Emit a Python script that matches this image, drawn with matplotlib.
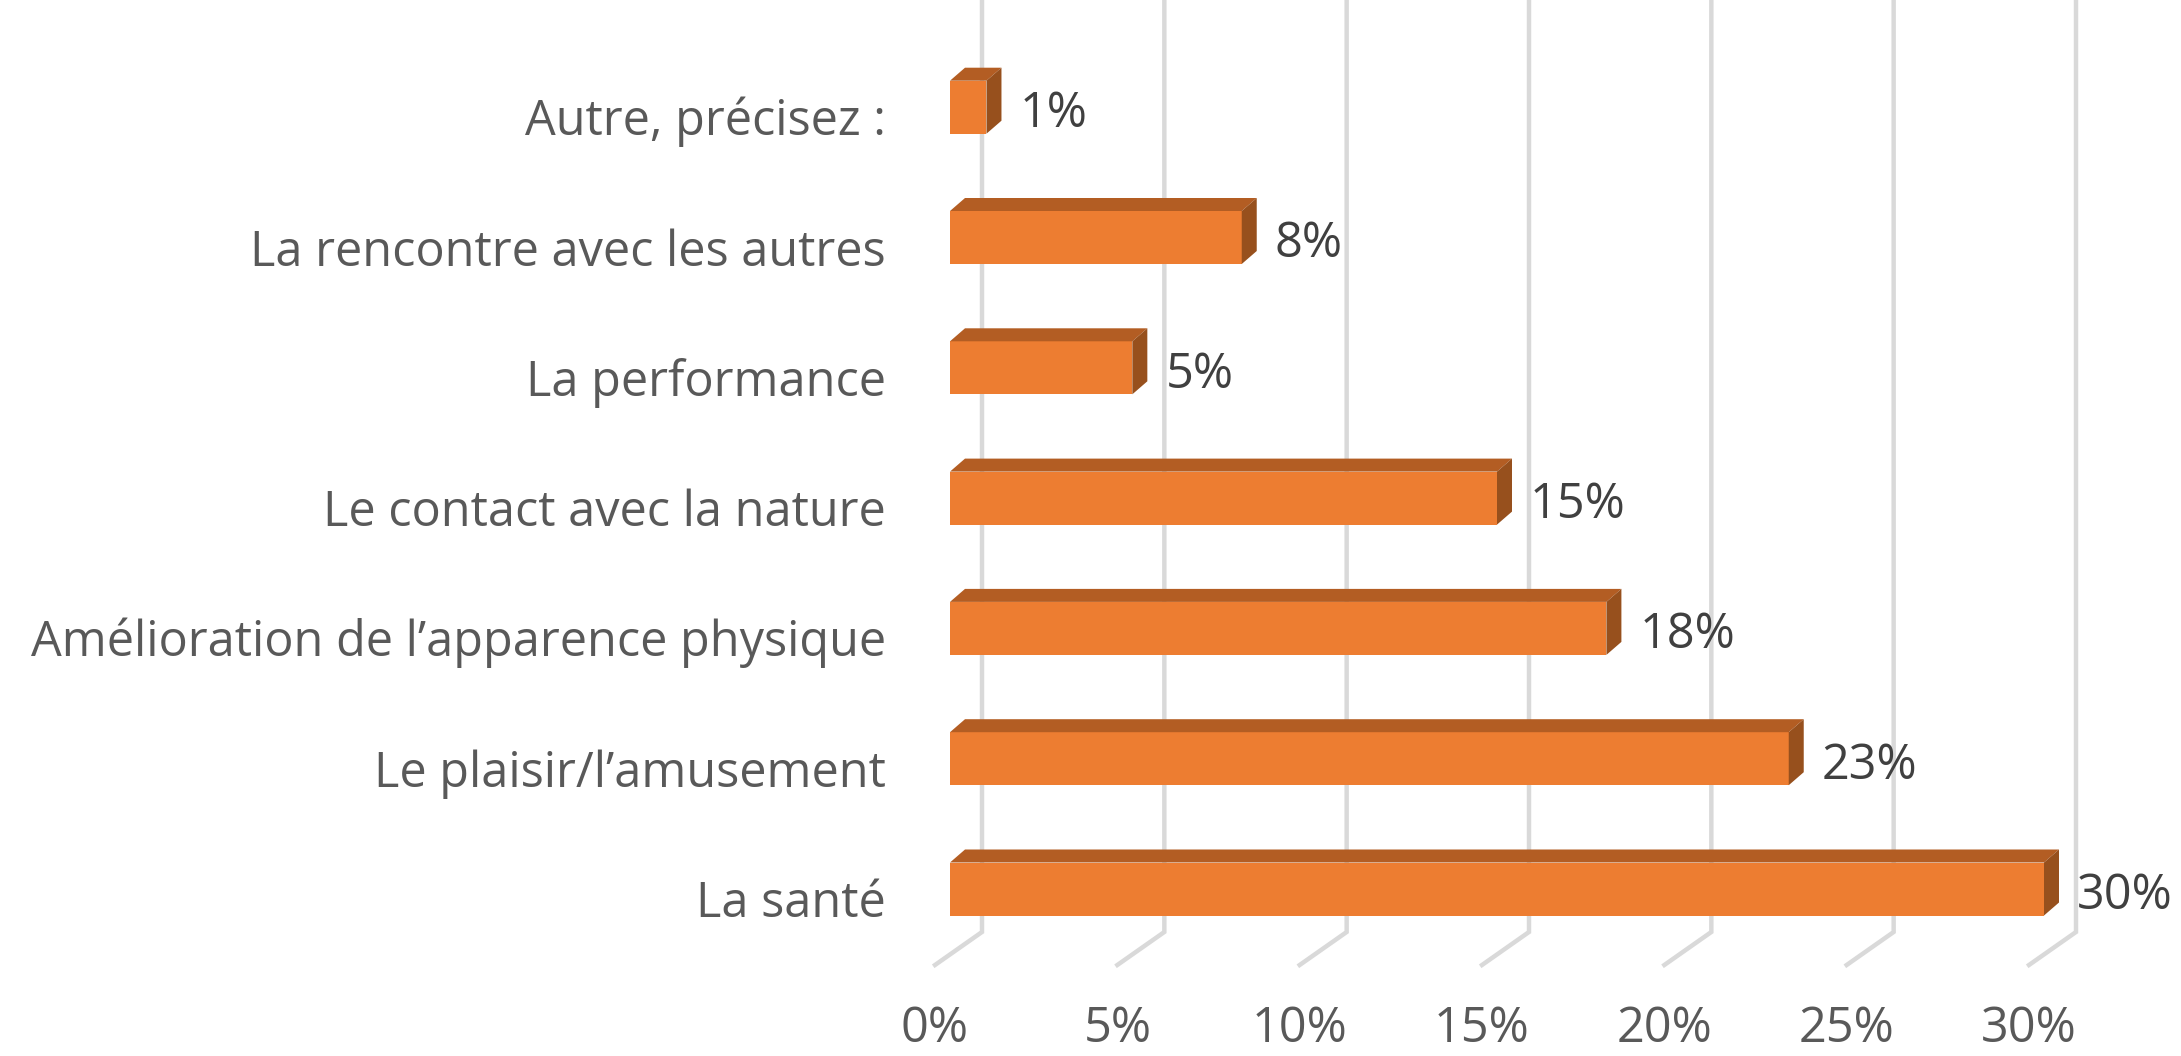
import matplotlib
matplotlib.use("Agg")
import matplotlib.pyplot as plt
from matplotlib.patches import Polygon
import numpy as np

categories = ["La santé", "Le plaisir/l’amusement", "Amélioration de l’apparence physique",
              "Le contact avec la nature", "La performance", "La rencontre avec les autres",
              "Autre, précisez :"]
values = [30, 23, 18, 15, 5, 8, 1]
xticks = [0, 5, 10, 15, 20, 25, 30]
xtick_labels = ["0%", "5%", "10%", "15%", "20%", "25%", "30%"]

W, H = 2181, 1056
fig = plt.figure(figsize=(W / 100, H / 100), dpi=100)
ax = fig.add_axes([0, 0, 1, 1])
ax.axis("off")

# pixel mapping
x0_px = 950.0
sx = 1094.0 / 30.0        # px per percent
y0_px = 889.0
sy = 130.3                # px per category

ax.set_xlim(-x0_px / sx, (W - x0_px) / sx)
ax.set_ylim((y0_px - H) / sy, y0_px / sy)

def dx(px):
    return px / sx

def dy(px):
    return px / sy

font = ["Open Sans", "DejaVu Sans"]
fs = 35

# grid: back wall vertical lines plus floor diagonals
grid_color = "#D9D9D9"
back_dx = dx(32)
front_dx = dx(-15)
back_floor_y = (y0_px - 932) / sy
front_floor_y = (y0_px - 965) / sy
top_y = y0_px / sy + 0.2
for t in xticks:
    ax.plot([t + back_dx, t + back_dx, t + front_dx],
            [top_y, back_floor_y, front_floor_y],
            color=grid_color, lw=3.2, solid_joinstyle="miter", zorder=1)

# bars
bar_h = dy(53)
ypos = np.arange(len(categories))
front_c = "#ED7D31"
top_c = "#B35D23"
side_c = "#97501D"
ddx, ddy = dx(15), dy(13)
ax.barh(ypos, values, height=bar_h, color=front_c, zorder=3, edgecolor="none")
for y, v in zip(ypos, values):
    top = y + bar_h / 2
    bot = y - bar_h / 2
    ax.add_patch(Polygon([[0, top], [v, top], [v + ddx, top + ddy], [ddx, top + ddy]],
                         closed=True, facecolor=top_c, edgecolor="none", zorder=3))
    ax.add_patch(Polygon([[v, bot], [v, top], [v + ddx, top + ddy], [v + ddx, bot + ddy]],
                         closed=True, facecolor=side_c, edgecolor="none", zorder=3))
    ax.text(v + ddx + dx(18), y - dy(20), f"{v}%", ha="left", va="baseline", fontsize=fs,
            color="#404040", family=font, zorder=4)

# category labels
for y, c in zip(ypos, categories):
    ax.text((886 - x0_px) / sx, y - dy(28), c, ha="right", va="baseline", fontsize=fs,
            color="#595959", family=font)

# x tick labels
lab_y = (y0_px - 1054) / sy
for t, l in zip(xticks, xtick_labels):
    ax.text(t + front_dx, lab_y, l, ha="center", va="bottom", fontsize=fs,
            color="#595959", family=font)

fig.savefig("out.png", dpi=100)
